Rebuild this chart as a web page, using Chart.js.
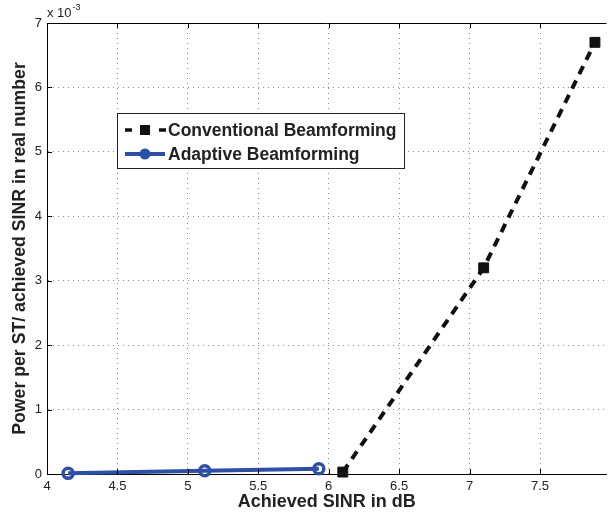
<!DOCTYPE html>
<html>
<head>
<meta charset="utf-8">
<script src="https://cdn.jsdelivr.net/npm/chart.js@4"></script>
<style>
  html, body { margin: 0; padding: 0; background: #fff; overflow: hidden; }
  #wrap { width: 615px; height: 515px; }
</style>
</head>
<body>
<div id="wrap"><canvas id="chart"></canvas></div>
<script>
// data (y in units of 1e-3)
const convX = [6.10, 7.10, 7.89];
const convY = [0.03, 3.20, 6.70];
const adaptX = [4.15, 5.12, 5.93];
const adaptY = [0.01, 0.05, 0.08];

const xTicks = [4, 4.5, 5, 5.5, 6, 6.5, 7, 7.5];
const yTicks = [0, 1, 2, 3, 4, 5, 6, 7];

const seriesNames = ['Conventional Beamforming', 'Adaptive Beamforming'];
const BLUE = '#2d4fa6';
const FONT = "'Liberation Sans', Arial, sans-serif";

const toPts = (xs, ys) => xs.map((x, i) => ({ x: x, y: ys[i] }));

// frame, inner ticks, exponent note and the boxed legend
const matlabDecor = {
    id: 'matlabDecor',
    afterDatasetsDraw(chart) {
        const { ctx, chartArea: a, scales } = chart;
        ctx.save();
        ctx.strokeStyle = '#000';
        ctx.lineWidth = 1;
        // top border
        ctx.beginPath();
        ctx.moveTo(a.left, a.top + 0.5);
        ctx.lineTo(a.right, a.top + 0.5);
        ctx.stroke();
        // inward tick marks
        xTicks.forEach(v => {
            const px = Math.round(scales.x.getPixelForValue(v)) + 0.5;
            ctx.beginPath();
            ctx.moveTo(px, a.bottom); ctx.lineTo(px, a.bottom - 5);
            ctx.moveTo(px, a.top); ctx.lineTo(px, a.top + 5);
            ctx.stroke();
        });
        yTicks.forEach(v => {
            const py = Math.round(scales.y.getPixelForValue(v)) + 0.5;
            ctx.beginPath();
            ctx.moveTo(a.left, py); ctx.lineTo(a.left + 5, py);
            ctx.stroke();
        });

        // x 10^-3
        ctx.fillStyle = '#222';
        ctx.textBaseline = 'alphabetic';
        ctx.textAlign = 'left';
        ctx.font = '13px ' + FONT;
        ctx.fillText('x 10', a.left, a.top - 6);
        const w = ctx.measureText('x 10').width;
        ctx.font = '9px ' + FONT;
        ctx.fillText('-3', a.left + 1 + w, a.top - 13);

        // legend
        const lx = 117, ly = 113, lw = 287, lh = 55;
        ctx.fillStyle = '#fff';
        ctx.fillRect(lx, ly, lw, lh);
        ctx.strokeStyle = '#222';
        ctx.lineWidth = 1;
        ctx.strokeRect(lx + 0.5, ly + 0.5, lw, lh);

        const rows = [ly + 17, ly + 41];
        // conventional sample
        ctx.strokeStyle = '#111';
        ctx.lineWidth = 3.5;
        ctx.setLineDash([7, 10]);
        ctx.beginPath();
        ctx.moveTo(lx + 8, rows[0]); ctx.lineTo(lx + 49, rows[0]);
        ctx.stroke();
        ctx.setLineDash([]);
        ctx.fillStyle = '#111';
        ctx.fillRect(lx + 28 - 5, rows[0] - 5, 10, 10);
        // adaptive sample
        ctx.strokeStyle = BLUE;
        ctx.lineWidth = 4;
        ctx.beginPath();
        ctx.moveTo(lx + 8, rows[1]); ctx.lineTo(lx + 48, rows[1]);
        ctx.stroke();
        ctx.fillStyle = BLUE;
        ctx.beginPath();
        ctx.arc(lx + 28, rows[1], 5.5, 0, Math.PI * 2);
        ctx.fill();

        ctx.fillStyle = '#222';
        ctx.font = 'bold 17.5px ' + FONT;
        ctx.textBaseline = 'middle';
        seriesNames.forEach((n, i) => ctx.fillText(n, lx + 51, rows[i] + 1));
        ctx.restore();
    }
};

const tickFont = { family: FONT, size: 13 };
const titleFont = { family: FONT, size: 18, weight: 'bold' };
const gridStyle = { color: '#8a8a8a', lineWidth: 1, drawTicks: false };
const borderStyle = { display: true, color: '#000', width: 1, dash: [1, 4] };
const fmt = v => String(v);

new Chart(document.getElementById('chart'), {
    type: 'scatter',
    data: {
        datasets: [
            {
                label: seriesNames[0],
                data: toPts(convX, convY),
                showLine: true,
                clip: false,
                borderColor: '#111',
                borderWidth: 4,
                borderDash: [9, 7],
                pointStyle: 'rect',
                pointRadius: 7,
                pointBackgroundColor: '#111',
                pointBorderColor: '#111',
                pointBorderWidth: 1
            },
            {
                label: seriesNames[1],
                data: toPts(adaptX, adaptY),
                showLine: true,
                clip: false,
                borderColor: BLUE,
                borderWidth: 4,
                pointStyle: 'circle',
                pointRadius: 5,
                pointBackgroundColor: 'rgba(0,0,0,0)',
                pointBorderColor: BLUE,
                pointBorderWidth: 3.5
            }
        ]
    },
    options: {
        responsive: true,
        maintainAspectRatio: false,
        animation: false,
        layout: { padding: { top: 23, right: 0, left: 0, bottom: 0 } },
        plugins: {
            legend: { display: false },
            tooltip: { enabled: false }
        },
        scales: {
            x: {
                type: 'linear',
                min: 4,
                max: 7.972,
                afterBuildTicks: s => { s.ticks = xTicks.map(v => ({ value: v })); },
                afterFit: s => { s.height = 41; },
                grid: gridStyle,
                border: borderStyle,
                ticks: { font: tickFont, color: '#222', padding: 5, maxRotation: 0, callback: fmt },
                title: { display: true, text: 'Achieved SINR in dB', font: titleFont, color: '#222', padding: { top: 2, bottom: 2 } }
            },
            y: {
                type: 'linear',
                min: 0,
                max: 7,
                afterBuildTicks: s => { s.ticks = yTicks.map(v => ({ value: v })); },
                afterFit: s => { s.width = 47; },
                grid: gridStyle,
                border: borderStyle,
                ticks: { font: tickFont, color: '#222', padding: 5, callback: fmt },
                title: { display: true, text: 'Power per ST/ achieved SINR in real number', font: { family: FONT, size: 17.7, weight: 'bold' }, color: '#222', padding: { top: 9, bottom: 0 } }
            }
        }
    },
    plugins: [matlabDecor]
});
</script>
</body>
</html>
